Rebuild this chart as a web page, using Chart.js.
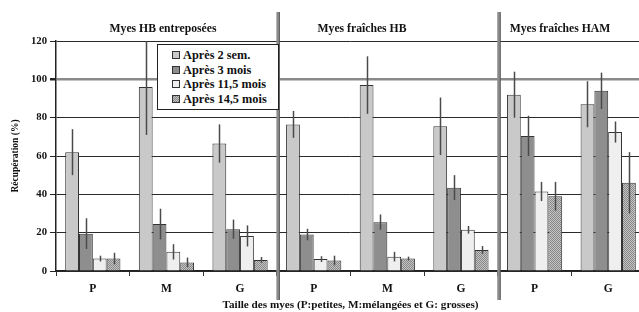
<!DOCTYPE html>
<html>
<head>
<meta charset="utf-8">
<script src="https://cdn.jsdelivr.net/npm/chart.js@4.4.1/dist/chart.umd.min.js"></script>
<style>
  body { margin: 0; overflow: hidden; background: #fff; }
  #wrap { position: relative; width: 645px; height: 312px; }
  #legend {
    position: absolute; left: 157px; top: 44px; width: 120px; height: 61px;
    border: 1px solid #222; background: #fff; box-sizing: content-box;
    font: bold 12.3px "Liberation Serif", "Times New Roman", serif; color: #111;
    padding-top: 3px;
  }
  #legend div { height: 14.7px; line-height: 14.7px; padding-left: 14px; white-space: nowrap; }
  #legend span { display: inline-block; width: 6px; height: 6px; border: 1px solid #333; margin-right: 3px; vertical-align: 0px; }
</style>
</head>
<body>
<div id="wrap">
  <canvas id="chart" width="645" height="312"></canvas>
  <div id="legend"></div>
</div>
<script>
  // catégories (taille des myes) et sections
  const labels = ['P', 'M', 'G', 'P', 'M', 'G', 'P', 'G'];
  const sections = ['Myes HB entreposées', 'Myes fraîches HB', 'Myes fraîches HAM'];
  const seriesNames = ['Après 2 sem.', 'Après 3 mois', 'Après 11,5 mois', 'Après 14,5 mois'];
  const yTicks = [0, 20, 40, 60, 80, 100, 120];

  // récupération (%)
  const apres2sem = [62, 96, 66.5, 76.5, 97, 75.5, 92, 87];
  const apres3mois = [19.5, 24.5, 21.8, 19, 25.5, 43.5, 70.5, 94];
  const apres11mois = [6.5, 10, 18.3, 6.2, 7.5, 21.5, 41.5, 72.5];
  const apres14mois = [6.5, 4.5, 5.8, 5.5, 6.5, 11, 39, 46];

  // écarts (barres d'erreur)
  const err2sem = [12, 25, 10, 7, 15, 15, 12, 12];
  const err3mois = [8, 8, 5, 3, 4, 6.5, 10.5, 9.5];
  const err11mois = [1.5, 4, 5.5, 1.5, 2.5, 2, 5, 5.5];
  const err14mois = [3, 2.5, 1.5, 2.5, 1, 2, 7.5, 16];

  const serif = '"Liberation Serif", "Times New Roman", serif';

  // motif pointillé pour 14,5 mois
  const pc = document.createElement('canvas');
  pc.width = 2; pc.height = 2;
  const pg = pc.getContext('2d');
  pg.fillStyle = '#c4c4c4'; pg.fillRect(0, 0, 2, 2);
  pg.fillStyle = '#888888'; pg.fillRect(0, 0, 1, 1); pg.fillRect(1, 1, 1, 1);
  const pattern = pg.createPattern(pc, 'repeat');

  const colors = ['#c9c9c9', '#8e8e8e', '#efefef', pattern];
  const values = [apres2sem, apres3mois, apres11mois, apres14mois];
  const errors = [err2sem, err3mois, err11mois, err14mois];

  // légende
  const legendDiv = document.getElementById('legend');
  seriesNames.forEach((name, i) => {
    const bg = i === 3 ? `url(${pc.toDataURL()})` : colors[i];
    legendDiv.innerHTML += `<div><span style="background:${bg}"></span>${name}</div>`;
  });

  const errorBars = {
    id: 'errorBars',
    afterDatasetsDraw(chart) {
      const { ctx, chartArea, scales: { y } } = chart;
      ctx.save();
      ctx.beginPath();
      ctx.rect(chartArea.left, chartArea.top, chartArea.right - chartArea.left, chartArea.bottom - chartArea.top);
      ctx.clip();
      ctx.strokeStyle = '#4a4a4a';
      ctx.lineWidth = 1.5;
      chart.data.datasets.forEach((ds, i) => {
        chart.getDatasetMeta(i).data.forEach((bar, j) => {
          const v = ds.data[j], e = errors[i][j];
          ctx.beginPath();
          ctx.moveTo(Math.round(bar.x) + 0.5, y.getPixelForValue(v + e));
          ctx.lineTo(Math.round(bar.x) + 0.5, y.getPixelForValue(v - e));
          ctx.stroke();
        });
      });
      ctx.restore();
    }
  };

  const sectionDecor = {
    id: 'sectionDecor',
    afterDraw(chart) {
      const { ctx, scales: { x } } = chart;
      ctx.save();
      // séparateurs entre sections
      [2, 5].forEach(i => {
        const px = (x.getPixelForValue(i) + x.getPixelForValue(i + 1)) / 2 + 1;
        ctx.fillStyle = '#8c8c8c';
        ctx.fillRect(px - 1.5, 12, 3, 288);
        ctx.fillStyle = '#555';
        ctx.fillRect(px + 1, 12, 1, 288);
      });
      // titres des sections
      ctx.fillStyle = '#111';
      ctx.font = 'bold 11.7px ' + serif;
      ctx.textAlign = 'center';
      ctx.textBaseline = 'middle';
      const centers = [163, 362, 560];
      sections.forEach((s, i) => ctx.fillText(s, centers[i], 29));
      ctx.restore();
    }
  };

  new Chart(document.getElementById('chart'), {
    type: 'bar',
    data: {
      labels: labels,
      datasets: seriesNames.map((name, i) => ({
        label: name,
        data: values[i],
        backgroundColor: colors[i],
        borderColor: '#333',
        borderWidth: 1,
        barPercentage: 1,
        categoryPercentage: 0.75
      }))
    },
    options: {
      responsive: false,
      animation: false,
      layout: { padding: { top: 41, right: 0, left: 0, bottom: 0 } },
      plugins: {
        legend: { display: false },
        tooltip: { enabled: false }
      },
      scales: {
        x: {
          afterFit: (s) => { s.height = 41; },
          grid: { display: true, drawOnChartArea: false, offset: true, tickLength: 5, color: '#333', lineWidth: 1 },
          border: { color: '#222', width: 1.5 },
          ticks: { color: '#111', font: { family: serif, size: 11.5, weight: 'bold' }, padding: 6 },
          title: {
            display: true,
            text: 'Taille des myes (P:petites, M:mélangées et G: grosses)',
            color: '#111',
            font: { family: serif, size: 11.2, weight: 'bold' },
            padding: { top: 0, bottom: 0 }
          }
        },
        y: {
          min: 0,
          max: 120,
          afterFit: (s) => { s.width = 56; },
          afterBuildTicks: (s) => { s.ticks = yTicks.map(v => ({ value: v })); },
          grid: {
            color: (c) => c.tick && c.tick.value === 100 ? '#8a8a8a' : '#2a2a2a',
            lineWidth: (c) => c.tick && c.tick.value === 100 ? 2.5 : 1,
            tickColor: '#222',
            tickLength: 6
          },
          border: { color: '#222', width: 1.5 },
          ticks: { color: '#111', font: { family: serif, size: 10.7, weight: 'bold' }, padding: 3 },
          title: {
            display: true,
            text: 'Récupération (%)',
            color: '#111',
            font: { family: serif, size: 9.5, weight: 'bold' },
            padding: { top: 10, bottom: 0 }
          }
        }
      }
    },
    plugins: [errorBars, sectionDecor]
  });
</script>
</body>
</html>
